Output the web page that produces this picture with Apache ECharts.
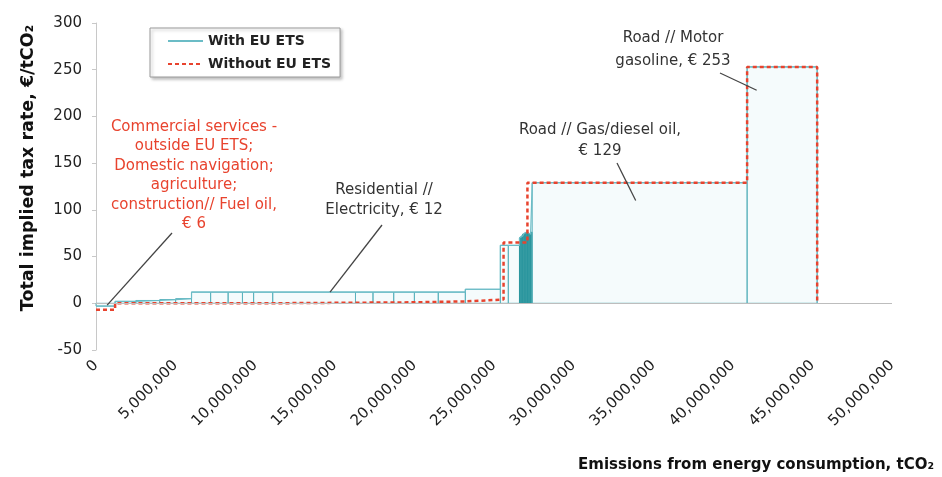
<!DOCTYPE html>
<html>
<head>
<meta charset="utf-8">
<script src="https://cdn.jsdelivr.net/npm/echarts@6/dist/echarts.min.js"></script>
<style>
  html, body { margin: 0; padding: 0; background: #ffffff; }
  #chart { width: 942px; height: 477px; }
</style>
</head>
<body>
<div id="chart"></div>
<script>
// Cumulative emissions (million tCO2) bounding each fuel/sector block, with EU ETS
const withEtsBoundsMt = [0, 1.2, 2.5, 4.0, 5.0, 6.0, 7.2, 8.3, 9.2, 9.9, 11.1, 16.3, 17.4, 18.7, 20.0, 21.5, 23.2, 25.4, 25.9, 26.6, 26.7, 26.8, 26.9, 27.0, 27.1, 27.2, 27.3, 27.4, 40.9, 45.3];
// Implied tax rate of each block with EU ETS (EUR/tCO2)
const withEtsRate = [-3, 2, 3, 4, 5, 12, 12, 12, 12, 12, 12, 12, 12, 12, 12, 12, 15, 62, 62, 70, 72, 74, 75, 76, 75, 74, 76, 129, 253];

// Same curve without EU ETS
const withoutEtsBoundsMt = [0, 1.2, 10.8, 19.7, 23.2, 25.6, 27.1, 40.9, 45.3];
const withoutEtsRate = [-7, 0, 1, 2, 4, 65, 129, 253];

const xTicks = [0, 5e6, 10e6, 15e6, 20e6, 25e6, 30e6, 35e6, 40e6, 45e6, 50e6];
const yTicks = [-50, 0, 50, 100, 150, 200, 250, 300];

const seriesNames = ['With EU ETS', 'Without EU ETS'];
const yTitle = 'Total implied tax rate, €/tCO₂';
const xTitle = 'Emissions from energy consumption, tCO₂';

// Callouts: text lines, colour, text centre/top (px), leader start (px) and the data point it points to
const callouts = [
  { lines: ['Commercial services -', 'outside EU ETS;', 'Domestic navigation;', 'agriculture;', 'construction// Fuel oil,', '€ 6'],
    color: '#e8432e', cx: 194, top: 117, lh: 19.5, from: [172, 233], to: [0.7e6, -2] },
  { lines: ['Residential //', 'Electricity, € 12'],
    color: '#333333', cx: 384, top: 180, lh: 20, from: [382, 225], to: [14.7e6, 12] },
  { lines: ['Road // Gas/diesel oil,', '€ 129'],
    color: '#333333', cx: 600, top: 120, lh: 21, from: [617, 163], to: [33.9e6, 110] },
  { lines: ['Road // Motor', 'gasoline, € 253'],
    color: '#333333', cx: 673, top: 27, lh: 23, from: [720, 73], to: [41.5e6, 228] }
];

const FONT = '"DejaVu Sans", Verdana, sans-serif';

function stepPoints(bounds, rates) {
  const pts = [];
  for (let i = 0; i < rates.length; i++) pts.push([bounds[i] * 1e6, rates[i]]);
  const end = bounds[bounds.length - 1] * 1e6;
  pts.push([end, rates[rates.length - 1]]);
  pts.push([end, 0]);
  return pts;
}

const blocks = withEtsRate.map((r, i) => [withEtsBoundsMt[i] * 1e6, withEtsBoundsMt[i + 1] * 1e6, r]);

const chart = echarts.init(document.getElementById('chart'), null, { renderer: 'canvas' });

const option = {
  backgroundColor: '#ffffff',
  animation: false,
  textStyle: { fontFamily: FONT },
  grid: { left: 96, right: 50, top: 23, bottom: 127, containLabel: false },
  legend: {
    data: seriesNames,
    orient: 'vertical',
    left: 150,
    top: 28,
    itemWidth: 35,
    itemHeight: 14,
    itemGap: 9,
    padding: [6, 9, 6, 17],
    backgroundColor: '#ffffff',
    borderColor: '#9a9a9a',
    borderWidth: 1,
    shadowColor: 'rgba(0,0,0,0.25)',
    shadowBlur: 3,
    shadowOffsetX: 2,
    shadowOffsetY: 2,
    itemStyle: { opacity: 0 },
    textStyle: { fontFamily: FONT, fontSize: 14, color: '#222', fontWeight: 'bold' }
  },
  xAxis: {
    type: 'value',
    min: xTicks[0],
    max: xTicks[xTicks.length - 1],
    interval: xTicks[1] - xTicks[0],
    axisLine: { show: false, onZero: false },
    axisTick: { show: false },
    splitLine: { show: false },
    axisLabel: {
      rotate: 45,
      margin: 13,
      fontSize: 15,
      color: '#222',
      fontFamily: FONT,
      formatter: v => v.toLocaleString('en-US')
    }
  },
  yAxis: {
    type: 'value',
    min: yTicks[0],
    max: yTicks[yTicks.length - 1],
    interval: 50,
    axisLine: { show: true, lineStyle: { color: '#c8c8c8', width: 1 } },
    axisTick: { show: true, inside: false, length: 4, lineStyle: { color: '#c8c8c8' } },
    splitLine: { show: false },
    axisLabel: { fontSize: 15, color: '#222', margin: 14, fontFamily: FONT }
  },
  series: [
    {
      // filled blocks of the With EU ETS curve
      name: 'With EU ETS blocks',
      type: 'custom',
      z: 2,
      data: blocks,
      renderItem: (params, api) => {
        const p0 = api.coord([api.value(0), api.value(2)]);
        const p1 = api.coord([api.value(1), 0]);
        const x = Math.min(p0[0], p1[0]);
        const y = Math.min(p0[1], p1[1]);
        const w = Math.abs(p1[0] - p0[0]);
        return {
          type: 'rect',
          shape: { x: x, y: y, width: w, height: Math.abs(p1[1] - p0[1]) },
          style: {
            fill: w < 3 ? 'rgba(42,150,158,0.85)' : 'rgba(190,230,236,0.16)',
            stroke: w < 3 ? '#2a969e' : '#5cb3bd',
            lineWidth: 1
          }
        };
      }
    },
    {
      name: seriesNames[0],
      type: 'line',
      step: 'end',
      z: 3,
      symbol: 'none',
      data: stepPoints(withEtsBoundsMt, withEtsRate),
      lineStyle: { color: '#6bbcc6', width: 1.2 },
      itemStyle: { color: '#6bbcc6' }
    },
    {
      name: seriesNames[1],
      type: 'line',
      step: 'end',
      z: 4,
      symbol: 'none',
      data: stepPoints(withoutEtsBoundsMt, withoutEtsRate),
      lineStyle: { color: '#e8432e', width: 2.5, type: [4, 3] },
      itemStyle: { color: '#e8432e' },
      markLine: {
        silent: true,
        symbol: 'none',
        label: { show: false },
        lineStyle: { color: '#bdbdbd', width: 1, type: 'solid' },
        data: [{ yAxis: 0 }]
      }
    }
  ]
};

chart.setOption(option);

// Axis titles and callouts placed once the scales are known
const graphics = [];
graphics.push({
  type: 'text',
  x: 28, y: 168,
  rotation: Math.PI / 2,
  style: { text: yTitle, font: 'bold 17.5px ' + FONT, fill: '#111', align: 'center', verticalAlign: 'middle' }
});
graphics.push({
  type: 'text',
  x: 934, y: 465,
  style: { text: xTitle, font: 'bold 15px ' + FONT, fill: '#111', align: 'right', verticalAlign: 'middle' }
});
callouts.forEach(c => {
  const tip = chart.convertToPixel({ gridIndex: 0 }, c.to);
  graphics.push({
    type: 'line',
    z: 10,
    shape: { x1: c.from[0], y1: c.from[1], x2: tip[0], y2: tip[1] },
    style: { stroke: '#444', lineWidth: 1.3 }
  });
  graphics.push({
    type: 'text',
    z: 11,
    x: c.cx, y: c.top,
    style: {
      text: c.lines.join('\n'),
      font: '15px ' + FONT,
      fill: c.color,
      align: 'center',
      verticalAlign: 'top',
      lineHeight: c.lh
    }
  });
});
chart.setOption({ graphic: graphics });
</script>
</body>
</html>
